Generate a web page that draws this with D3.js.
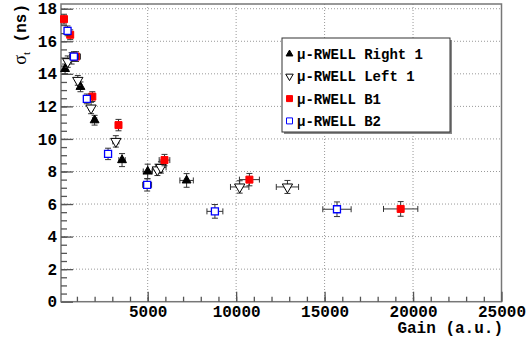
<!DOCTYPE html>
<html><head><meta charset="utf-8">
<script src="https://cdn.jsdelivr.net/npm/d3@7"></script>
<style>body{margin:0;background:#fff}svg{display:block}</style>
</head><body>
<script>
// ---- data ----
const xTicks = [5000, 10000, 15000, 20000, 25000];
const yTicks = [0, 2, 4, 6, 8, 10, 12, 14, 16, 18];
const legendLabels = ["\u03bc-RWELL Right 1", "\u03bc-RWELL Left 1", "\u03bc-RWELL B1", "\u03bc-RWELL B2"];

const gainR1 = [330, 700, 1200, 2000, 3550, 5000, 7200];
const sigR1  = [14.3, 14.95, 13.2, 11.15, 8.7, 8.0, 7.45];
const exR1   = [30, 60, 80, 120, 180, 250, 380];
const eyR1   = [0.3, 0.35, 0.3, 0.3, 0.4, 0.45, 0.42];

const gainL1 = [480, 1050, 1800, 3200, 5550, 5750, 10200, 12900];
const sigL1  = [14.75, 13.6, 11.9, 9.85, 8.1, 8.25, 7.05, 7.05];
const exL1   = [40, 70, 110, 170, 280, 290, 520, 630];
const eyL1   = [0.35, 0.3, 0.35, 0.35, 0.35, 0.35, 0.38, 0.4];

const gainB1 = [270, 620, 950, 1870, 3350, 5950, 10750, 19300];
const sigB1  = [17.36, 16.4, 15.06, 12.6, 10.85, 8.7, 7.5, 5.7];
const exB1   = [30, 50, 250, 110, 170, 300, 565, 970];
const eyB1   = [0.3, 0.3, 0.3, 0.3, 0.35, 0.35, 0.38, 0.45];

const gainB2 = [470, 830, 1560, 2760, 4970, 8800, 15700];
const sigB2  = [16.64, 15.06, 12.46, 9.08, 7.18, 5.55, 5.68];
const exB2   = [40, 250, 90, 140, 250, 450, 800];
const eyB2   = [0.3, 0.3, 0.3, 0.35, 0.38, 0.42, 0.45];

// ---- layout ----
const W = 527, H = 346;
const L = 61, R = 501.5, T = 4, B = 301.7;
const svg = d3.select("body").append("svg").attr("width", W).attr("height", H);
const x = d3.scaleLinear().domain([100, 25000]).range([L, R]);
const y = d3.scaleLinear().domain([0, 18.29]).range([B, T]);
const mono = "'Liberation Mono','DejaVu Sans Mono',monospace";

// grid
const grid = svg.append("g");
grid.selectAll(".gx").data(xTicks.filter(v => v < 25000)).join("line")
  .attr("x1", d => x(d)).attr("x2", d => x(d)).attr("y1", T).attr("y2", B)
  .attr("stroke", "#999").attr("stroke-width", 1).attr("stroke-dasharray", "1,2");
grid.selectAll(".gy").data(yTicks.filter(v => v > 0)).join("line")
  .attr("x1", L).attr("x2", R).attr("y1", d => y(d)).attr("y2", d => y(d))
  .attr("stroke", "#999").attr("stroke-width", 1).attr("stroke-dasharray", "1,2");

// frame
svg.append("rect").attr("x", L).attr("y", T).attr("width", R - L).attr("height", B - T)
  .attr("fill", "none").attr("stroke", "#777").attr("stroke-width", 1.5);

// axes
const xMinor = d3.range(1000, 25000, 1000);
const yMinor = d3.range(0.5, 18.3, 0.5);
function styleAxis(g){ g.select(".domain").remove(); g.selectAll(".tick line").attr("stroke", "#555").attr("stroke-width", 1.3); }
svg.append("g").attr("transform", `translate(0,${B})`)
  .call(d3.axisBottom(x).tickValues(xMinor).tickSize(-5).tickFormat(""))
  .call(styleAxis);
svg.append("g").attr("transform", `translate(0,${B})`)
  .call(d3.axisBottom(x).tickValues(xTicks).tickSize(-10).tickPadding(4).tickFormat(d3.format("d")))
  .call(styleAxis)
  .selectAll("text").attr("font-family", mono).attr("font-weight", "bold").attr("font-size", 16).attr("fill", "#000");
svg.append("g").attr("transform", `translate(${L},0)`)
  .call(d3.axisLeft(y).tickValues(yMinor).tickSize(-6).tickFormat(""))
  .call(styleAxis);
svg.append("g").attr("transform", `translate(${L},0)`)
  .call(d3.axisLeft(y).tickValues(yTicks).tickSize(-12).tickPadding(4).tickFormat(d3.format("d")))
  .call(styleAxis)
  .selectAll("text").attr("font-family", mono).attr("font-weight", "bold").attr("font-size", 16).attr("fill", "#000");

// axis titles
svg.append("text").attr("x", 503).attr("y", 333).attr("text-anchor", "end")
  .attr("font-family", mono).attr("font-weight", "bold").attr("font-size", 16).text("Gain (a.u.)");
const yt = svg.append("text").attr("transform", "translate(26,4) rotate(-90)").attr("text-anchor", "end")
  .attr("font-family", mono).attr("font-weight", "bold").attr("font-size", 16);
yt.append("tspan").attr("font-family", "'Liberation Serif',serif").attr("font-weight", "normal").attr("font-size", 18).text("\u03c3");
yt.append("tspan").attr("font-family", "'Liberation Serif',serif").attr("font-weight", "normal").attr("font-size", 11).attr("dy", 4).text("t");
yt.append("tspan").attr("dy", -4).text(" (ns)");

// series
const series = [
  {gx: gainR1, sy: sigR1, ex: exR1, ey: eyR1, type: "tri", fill: "#000", stroke: "#000"},
  {gx: gainL1, sy: sigL1, ex: exL1, ey: eyL1, type: "itri", fill: "#fff", stroke: "#000"},
  {gx: gainB1, sy: sigB1, ex: exB1, ey: eyB1, type: "sq", fill: "#f00", stroke: "#f00"},
  {gx: gainB2, sy: sigB2, ex: exB2, ey: eyB2, type: "sq", fill: "#fff", stroke: "#00f"},
];
const sym = {
  tri: d3.symbol().type(d3.symbolTriangle).size(34),
  itri: d3.symbol().type(d3.symbolTriangle).size(46),
  sq: d3.symbol().type(d3.symbolSquare).size(49)
};
const errCol = "#333";
series.forEach(s => {
  const pts = s.gx.map((g, i) => ({g, v: s.sy[i], ex: s.ex[i], ey: s.ey[i]}));
  const g = svg.append("g");
  const e = g.selectAll("g.e").data(pts).join("g");
  e.append("line").attr("x1", d => x(d.g - d.ex)).attr("x2", d => x(d.g + d.ex))
    .attr("y1", d => y(d.v)).attr("y2", d => y(d.v)).attr("stroke", errCol).attr("stroke-width", 1);
  e.append("line").attr("x1", d => x(d.g)).attr("x2", d => x(d.g))
    .attr("y1", d => y(d.v - d.ey)).attr("y2", d => y(d.v + d.ey)).attr("stroke", errCol).attr("stroke-width", 1);
  [-1, 1].forEach(k => {
    e.append("line").attr("x1", d => x(d.g) - 3).attr("x2", d => x(d.g) + 3)
      .attr("y1", d => y(d.v + k * d.ey)).attr("y2", d => y(d.v + k * d.ey)).attr("stroke", errCol).attr("stroke-width", 1);
    e.append("line").attr("x1", d => x(d.g + k * d.ex)).attr("x2", d => x(d.g + k * d.ex))
      .attr("y1", d => y(d.v) - 3).attr("y2", d => y(d.v) + 3).attr("stroke", errCol).attr("stroke-width", 1);
  });
  g.selectAll("path.m").data(pts).join("path")
    .attr("d", sym[s.type])
    .attr("transform", d => `translate(${x(d.g)},${y(d.v)})` + (s.type === "itri" ? " rotate(180)" : ""))
    .attr("fill", s.fill).attr("stroke", s.stroke).attr("stroke-width", s.type === "sq" && s.fill === "#fff" ? 1.3 : 1);
});

// legend
const lg = svg.append("g");
lg.append("rect").attr("x", 284).attr("y", 40).attr("width", 168).attr("height", 94).attr("fill", "#888");
lg.append("rect").attr("x", 282).attr("y", 38).attr("width", 168).attr("height", 94)
  .attr("fill", "#fff").attr("stroke", "#333").attr("stroke-width", 1);
const legSym = [
  d3.symbol().type(d3.symbolTriangle).size(20),
  d3.symbol().type(d3.symbolTriangle).size(24),
  d3.symbol().type(d3.symbolSquare).size(36),
  d3.symbol().type(d3.symbolSquare).size(36)
];
legendLabels.forEach((t, i) => {
  const yy = 54 + i * 22.3;
  const s = series[i];
  lg.append("path").attr("d", legSym[i])
    .attr("transform", `translate(289.5,${yy})` + (s.type === "itri" ? " rotate(180)" : ""))
    .attr("fill", s.fill).attr("stroke", s.stroke).attr("stroke-width", 1);
  lg.append("text").attr("x", 297).attr("y", yy + 5).attr("font-family", mono).attr("font-weight", "bold")
    .attr("font-size", 14).text(t);
});
</script>
</body></html>
